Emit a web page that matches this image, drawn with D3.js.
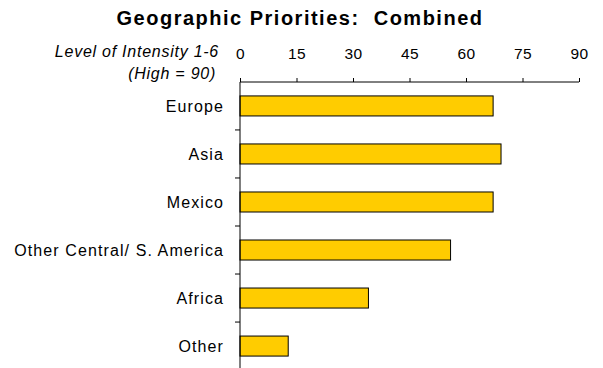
<!DOCTYPE html>
<html>
<head>
<meta charset="utf-8">
<script src="https://cdn.jsdelivr.net/npm/d3@7"></script>
<style>
  body { margin: 0; background: #fff; }
  text { font-family: "Liberation Sans", Arial, sans-serif; fill: #000; }
</style>
</head>
<body>
<div id="chart"></div>
<script>
var regions = ["Europe", "Asia", "Mexico", "Other Central/ S. America", "Africa", "Other"];
var scores = [67.2, 69.3, 67.2, 55.9, 34.1, 12.8];
var tickValues = [0, 15, 30, 45, 60, 75, 90];

var width = 603, height = 368;
var margin = {left: 240, right: 24, top: 82, bottom: -2};

var svg = d3.select("#chart").append("svg")
    .attr("width", width).attr("height", height);

var x = d3.scaleLinear()
    .domain([0, 90])
    .range([margin.left, width - margin.right]);

var y = d3.scaleBand()
    .domain(regions)
    .range([margin.top, height - margin.bottom])
    .paddingInner(0.583)
    .paddingOuter(0.29);

// title
svg.append("text")
    .attr("x", 300).attr("y", 25)
    .attr("text-anchor", "middle")
    .style("font-size", "20px").style("font-weight", "bold")
    .style("letter-spacing", "1.5px")
    .style("white-space", "pre")
    .text("Geographic Priorities:  Combined");

// axis caption
svg.append("text")
    .attr("x", 219).attr("y", 57)
    .attr("text-anchor", "end")
    .style("font-size", "16px").style("font-style", "italic")
    .style("letter-spacing", "0.75px")
    .text("Level of Intensity 1-6");
svg.append("text")
    .attr("x", 216).attr("y", 79)
    .attr("text-anchor", "end")
    .style("font-size", "16px").style("font-style", "italic")
    .style("letter-spacing", "0.75px")
    .text("(High = 90)");

// bars
svg.selectAll("rect.bar")
    .data(regions)
    .enter().append("rect")
    .attr("class", "bar")
    .attr("x", x(0))
    .attr("y", function(d){ return y(d); })
    .attr("width", function(d, i){ return x(scores[i]) - x(0); })
    .attr("height", y.bandwidth())
    .attr("fill", "#FFCC00")
    .attr("stroke", "#000")
    .attr("stroke-width", 1);

// top axis
var xAxis = d3.axisTop(x).tickValues(tickValues).tickSize(4).tickPadding(19);
var gx = svg.append("g")
    .attr("transform", "translate(0," + margin.top + ")")
    .call(xAxis);
gx.selectAll("text").style("font-size", "15.5px").style("letter-spacing", "0.5px");
gx.select(".domain").attr("d", "M" + x(0) + ",0H" + x(90));

// left axis with ticks between categories
var step = y.step();
var catTicks = regions.map(function(d){ return y(d) + y.bandwidth() / 2 - step / 2; });
var gy = svg.append("g");
gy.append("line")
    .attr("x1", x(0)).attr("x2", x(0))
    .attr("y1", margin.top).attr("y2", height)
    .attr("stroke", "#000");
gy.selectAll("line.tick")
    .data(catTicks.slice(1))
    .enter().append("line")
    .attr("class", "tick")
    .attr("x1", x(0) - 5).attr("x2", x(0))
    .attr("y1", function(d){ return d; }).attr("y2", function(d){ return d; })
    .attr("stroke", "#000");
gy.selectAll("text")
    .data(regions)
    .enter().append("text")
    .attr("x", x(0) - 16)
    .attr("y", function(d){ return y(d) + y.bandwidth() / 2; })
    .attr("dy", "0.36em")
    .attr("text-anchor", "end")
    .style("font-size", "16px")
    .style("letter-spacing", "1.1px")
    .text(function(d){ return d; });
</script>
</body>
</html>
